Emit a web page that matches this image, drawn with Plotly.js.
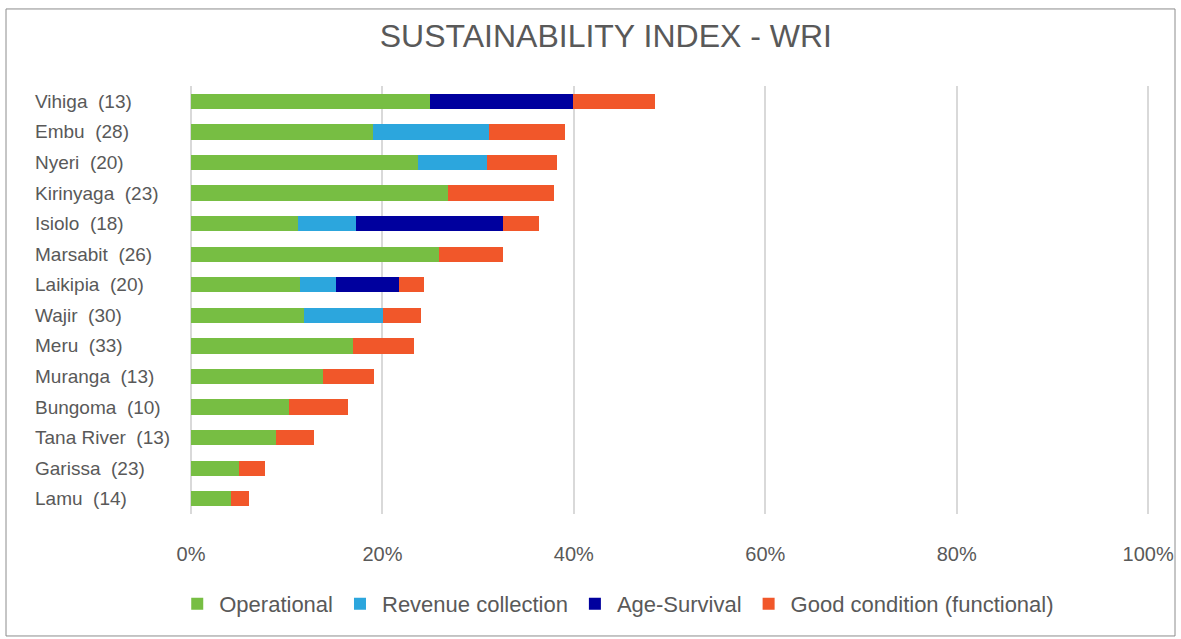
<!DOCTYPE html>
<html>
<head>
<meta charset="utf-8">
<script src="https://cdn.plot.ly/plotly-3.0.1.min.js"></script>
<style>html,body{margin:0;padding:0;background:#fff;}#chart{width:1181px;height:639px;}</style>
</head>
<body>
<div id="chart"></div>
<script>
// Data (fractions of 1), top-to-bottom order
const counties = ["Vihiga", "Embu", "Nyeri", "Kirinyaga", "Isiolo", "Marsabit", "Laikipia", "Wajir", "Meru", "Muranga", "Bungoma", "Tana River", "Garissa", "Lamu"];
const counts = [13, 28, 20, 23, 18, 26, 20, 30, 33, 13, 10, 13, 23, 14];
const operational = [0.250, 0.190, 0.237, 0.269, 0.112, 0.259, 0.114, 0.118, 0.169, 0.138, 0.102, 0.089, 0.050, 0.042];
const revenueCollection = [0, 0.121, 0.072, 0, 0.060, 0, 0.038, 0.083, 0, 0, 0, 0, 0, 0];
const ageSurvival = [0.149, 0, 0, 0, 0.154, 0, 0.065, 0, 0, 0, 0, 0, 0, 0];
const goodCondition = [0.086, 0.080, 0.073, 0.110, 0.038, 0.067, 0.026, 0.039, 0.064, 0.053, 0.062, 0.040, 0.027, 0.019];
const seriesNames = ["Operational", "Revenue collection", "Age-Survival", "Good condition (functional)"];
const xTickVals = [0, 0.2, 0.4, 0.6, 0.8, 1.0];
const xTickText = ["0%", "20%", "40%", "60%", "80%", "100%"];
const title = "SUSTAINABILITY INDEX - WRI";

const colors = ["#77BE43", "#2CA6DD", "#00009E", "#F1572A"];
const FONT = "'Liberation Sans Narrow', 'Liberation Sans', Arial, sans-serif";
const TXT = "#595959";

const labels = counties.map((c, i) => c + "\u00A0 (" + counts[i] + ")");
const allSeries = [operational, revenueCollection, ageSurvival, goodCondition];

const traces = allSeries.map((vals, k) => ({
  type: "bar",
  orientation: "h",
  name: seriesNames[k],
  x: vals,
  y: labels,
  marker: {color: colors[k], line: {width: 0}},
  hoverinfo: "name+x"
}));

const annotations = labels.map(l => ({
  xref: "paper", yref: "y",
  x: -0.1645, y: l,
  xanchor: "left", yanchor: "middle",
  text: l, showarrow: false,
  font: {family: FONT, size: 19, color: TXT}
}));

const layout = {
  width: 1181, height: 639,
  paper_bgcolor: "#ffffff", plot_bgcolor: "#ffffff",
  margin: {l: 191, r: 30, t: 86, b: 125},
  barmode: "stack",
  bargap: 0.5,
  title: {
    text: title,
    xref: "container", yref: "container",
    x: 0.513, y: 0.944, xanchor: "center", yanchor: "middle",
    font: {family: FONT, size: 32, color: TXT}
  },
  xaxis: {
    range: [0, 1.003],
    tickvals: xTickVals, ticktext: xTickText,
    showgrid: true, gridcolor: "#D9D9D9", gridwidth: 2,
    zeroline: true, zerolinecolor: "#D9D9D9", zerolinewidth: 2,
    showline: false,
    ticks: "outside", ticklen: 22, tickcolor: "rgba(0,0,0,0)",
    tickfont: {family: FONT, size: 20, color: TXT},
    fixedrange: true
  },
  yaxis: {
    type: "category",
    autorange: "reversed",
    showticklabels: false,
    showgrid: false, zeroline: false, showline: false,
    ticks: "",
    fixedrange: true
  },
  showlegend: true,
  legend: {
    orientation: "h",
    x: 0.444, xanchor: "center",
    y: -0.21, yanchor: "middle",
    font: {family: FONT, size: 22, color: TXT},
    itemwidth: 34,
    traceorder: "normal",
    itemclick: false, itemdoubleclick: false
  },
  annotations: annotations,
  shapes: [{
    type: "rect", xref: "paper", yref: "paper",
    x0: -0.1927, x1: 1.0250, y0: -0.285, y1: 1.18,
    line: {color: "#8c8c8c", width: 1}, fillcolor: "rgba(0,0,0,0)", layer: "below"
  }]
};

Plotly.newPlot("chart", traces, layout, {displayModeBar: false, staticPlot: false});
</script>
</body>
</html>
